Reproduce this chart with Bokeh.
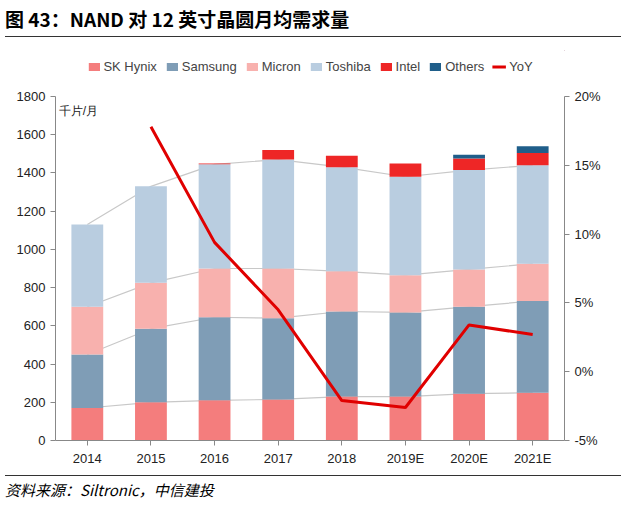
from bokeh.plotting import figure
from bokeh.models import Range1d, LinearAxis, Legend, LegendItem, Div, FixedTicker, Label
from bokeh.layouts import column
from bokeh.embed import file_html
from bokeh.resources import INLINE

years = ["2014", "2015", "2016", "2017", "2018", "2019E", "2020E", "2021E"]
sk_hynix = [170, 200, 210, 215, 230, 230, 245, 250]
samsung = [280, 385, 435, 425, 445, 440, 455, 480]
micron = [250, 240, 255, 260, 210, 195, 195, 195]
toshiba = [430, 505, 545, 570, 545, 515, 520, 515]
intel = [0, 0, 5, 50, 60, 70, 60, 65]
others = [0, 0, 0, 0, 0, 0, 20, 35]
yoy_years = ["2015", "2016", "2017", "2018", "2019E", "2020E", "2021E"]
yoy = [17.8, 9.4, 4.5, -2.1, -2.6, 3.4, 2.7]

names = ["SK Hynix", "Samsung", "Micron", "Toshiba", "Intel", "Others"]
series = [sk_hynix, samsung, micron, toshiba, intel, others]
colors = ["#f47d7d", "#7f9db6", "#f8b1ae", "#b9cde0", "#ee2626", "#1f5e8a"]

xs = list(range(len(years)))
p = figure(width=624, height=388, output_backend="svg", toolbar_location=None,
           x_range=Range1d(-0.5, 7.5), y_range=Range1d(0, 1800),
           min_border_left=55, min_border_right=60, min_border_top=14, min_border_bottom=30)
p.extra_y_ranges = {"r": Range1d(-5, 20)}
p.xgrid.visible = False
p.ygrid.visible = False
p.outline_line_color = None

bottom = [0] * len(years)
tops = []
for vals in series:
    top = [b + v for b, v in zip(bottom, vals)]
    tops.append((list(bottom), top))
    bottom = top
for i, (b, t) in enumerate(tops[:4]):
    p.line(xs, t, line_color="#c8c8c8", line_width=1.2)
for (b, t), col in zip(tops, colors):
    p.vbar(x=xs, bottom=b, top=t, width=0.5, color=col, line_color=None)

yx = [years.index(y) for y in yoy_years]
p.line(yx, yoy, y_range_name="r", line_color="#e00000", line_width=3)

p.xaxis.ticker = FixedTicker(ticks=xs)
p.xaxis.major_label_overrides = {i: y for i, y in enumerate(years)}
p.yaxis.ticker = FixedTicker(ticks=list(range(0, 1801, 200)))
ra = LinearAxis(y_range_name="r", ticker=FixedTicker(ticks=[-5, 0, 5, 10, 15, 20]))
ra.major_label_overrides = {v: f"{v}%" for v in [-5, 0, 5, 10, 15, 20]}
p.add_layout(ra, "right")
for ax in [p.xaxis[0], p.yaxis[0], ra]:
    ax.major_label_text_font_size = "13px"
    ax.major_label_text_color = "#222222"
    ax.axis_line_color = "#888888"
    ax.major_tick_line_color = "#888888"
    ax.minor_tick_line_color = None
    ax.major_tick_in = 0
    ax.major_tick_out = 5

p.add_layout(Label(x=-0.45, y=1690, text="千片/月", text_font_size="12px", text_color="#222222"))

# legend strip
lf = figure(width=624, height=32, output_backend="svg", toolbar_location=None,
            x_range=Range1d(0, 1), y_range=Range1d(0, 1), min_border=0)
lf.axis.visible = False
lf.grid.visible = False
lf.outline_line_color = None
items = []
for name, col in zip(names, colors):
    r = lf.vbar(x=[5], top=[6], bottom=[5], width=0.1, color=col, line_color=None)
    items.append(LegendItem(label=name, renderers=[r]))
r = lf.line([5, 6], [5, 6], line_color="#e00000", line_width=3)
items.append(LegendItem(label="YoY", renderers=[r]))
leg = Legend(items=items, orientation="horizontal", label_text_font_size="13px",
             glyph_width=14, glyph_height=10, spacing=8, label_standoff=3,
             border_line_color=None, background_fill_alpha=0, padding=2, margin=0,
             location="center")
lf.add_layout(leg, "center")

title = Div(text="<div style='font-family:\"Noto Sans CJK SC\";font-weight:bold;font-size:19px;border-bottom:1.5px solid #333;width:616px;padding-bottom:4px'>图 43：NAND 对 12 英寸晶圆月均需求量</div>",
            width=624, height=40)
src = Div(text="<div style='font-family:\"Noto Sans CJK SC\";font-style:italic;font-size:15px;border-top:1px solid #333;width:616px;padding-top:3px'>资料来源：Siltronic，中信建投</div>",
          width=624, height=28)
layout = column(title, lf, p, src, spacing=0)
open("out.html", "w").write(file_html(layout, INLINE))
